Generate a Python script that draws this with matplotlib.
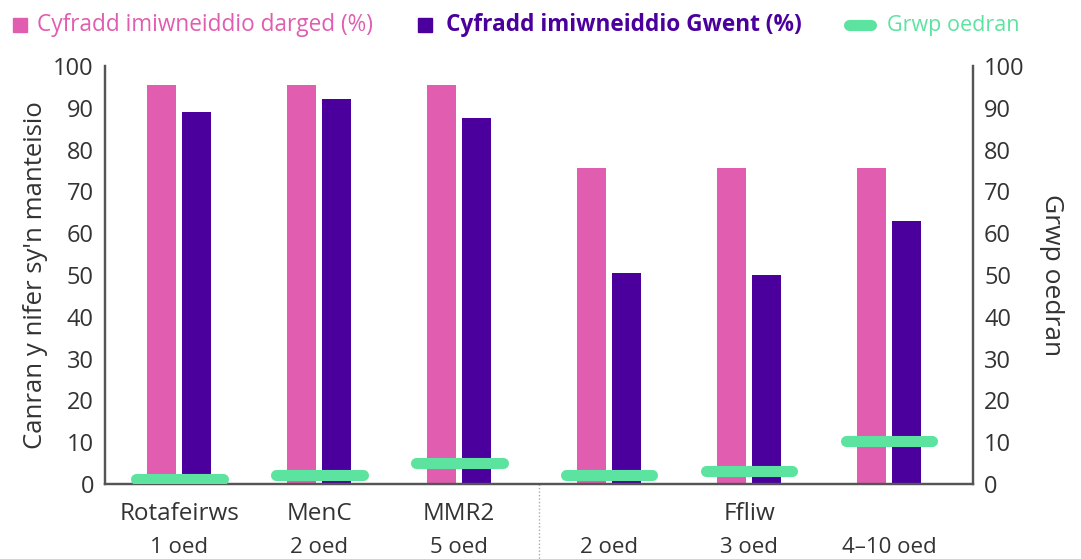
import matplotlib.pyplot as plt
import numpy as np
from matplotlib.lines import Line2D
from matplotlib.patches import Rectangle

plt.rcParams['font.family'] = ['Open Sans', 'DejaVu Sans']

# data
vaccines = ['Rotafeirws', 'MenC', 'MMR2', '', 'Ffliw', '']
age_labels = ['1 oed', '2 oed', '5 oed', '2 oed', '3 oed', '4–10 oed']
target = [95.5, 95.5, 95.5, 75.5, 75.5, 75.5]
gwent = [89, 92, 87.5, 50.5, 50, 63]
age_group = [1.3, 2.2, 5, 2.1, 3, 10.3]

pink = '#E15DAF'
purple = '#4B009E'
green = '#5DE3A0'
txt = '#333333'

fig = plt.figure(figsize=(10.81, 5.59), dpi=100)
ax = fig.add_axes([105 / 1081, 1 - 484 / 559, 868 / 1081, 418 / 559])
ax2 = ax.twinx()

# small extra gap between the routine vaccines and the flu group
x = np.arange(len(target)) + 0.07 * (np.arange(len(target)) >= 3)
w = 0.21
ax.bar(x - 0.125, target, w, color=pink, zorder=2)
ax.bar(x + 0.125, gwent, w, color=purple, zorder=2)

# age group markers as thick dashes on the right axis
ax2.hlines(age_group, x - 0.31, x + 0.31, colors=green, lw=8,
           capstyle='round', zorder=3)

for a in (ax, ax2):
    a.set_ylim(0, 100)
    a.set_yticks(range(0, 101, 10))
    a.tick_params(length=0, labelsize=17, colors=txt, pad=8)
    a.spines['top'].set_visible(False)
    for s in ('left', 'right', 'bottom'):
        a.spines[s].set_color('#555555')
        a.spines[s].set_linewidth(1.6)
ax.set_xlim(-0.53, 5.67)
ax.set_xticks([])

ax.set_ylabel("Canran y nifer sy'n manteisio", fontsize=18.5, color=txt, labelpad=4)
ax2.set_ylabel('Grwp oedran', fontsize=19, color=txt, rotation=270, labelpad=28)

# two-level category labels
for i in range(len(x)):
    if vaccines[i]:
        ax.text(x[i], -4.2, vaccines[i], ha='center', va='top', fontsize=17.5,
                color=txt, clip_on=False)
    ax.text(x[i], -12.6, age_labels[i], ha='center', va='top', fontsize=16,
            color=txt, clip_on=False)
ax.plot([x[3] - 0.5, x[3] - 0.5], [0, -20], ls=(0, (1, 1.5)), color='#aaaaaa',
        lw=1, clip_on=False)

# legend drawn by hand along the top
W, H = 1081, 559
ly = 1 - 25 / H
fig.add_artist(Rectangle((13 / W, ly - 7 / H), 14 / W, 14 / H, color=pink,
                         transform=fig.transFigure))
fig.text(37 / W, ly, 'Cyfradd imiwneiddio darged (%)', color=pink,
         fontsize=16.3, va='center')
fig.add_artist(Rectangle((418 / W, ly - 7 / H), 14 / W, 14 / H, color=purple,
                         transform=fig.transFigure))
fig.text(446 / W, ly, 'Cyfradd imiwneiddio Gwent (%)', color=purple,
         fontsize=16.3, fontweight='bold', va='center')
fig.add_artist(Line2D([849 / W, 871 / W], [ly, ly], color=green, lw=8,
                      solid_capstyle='round', transform=fig.transFigure))
fig.text(887 / W, ly, 'Grwp oedran', color=green, fontsize=15.5, va='center')

fig.savefig('out.png', dpi=100)
